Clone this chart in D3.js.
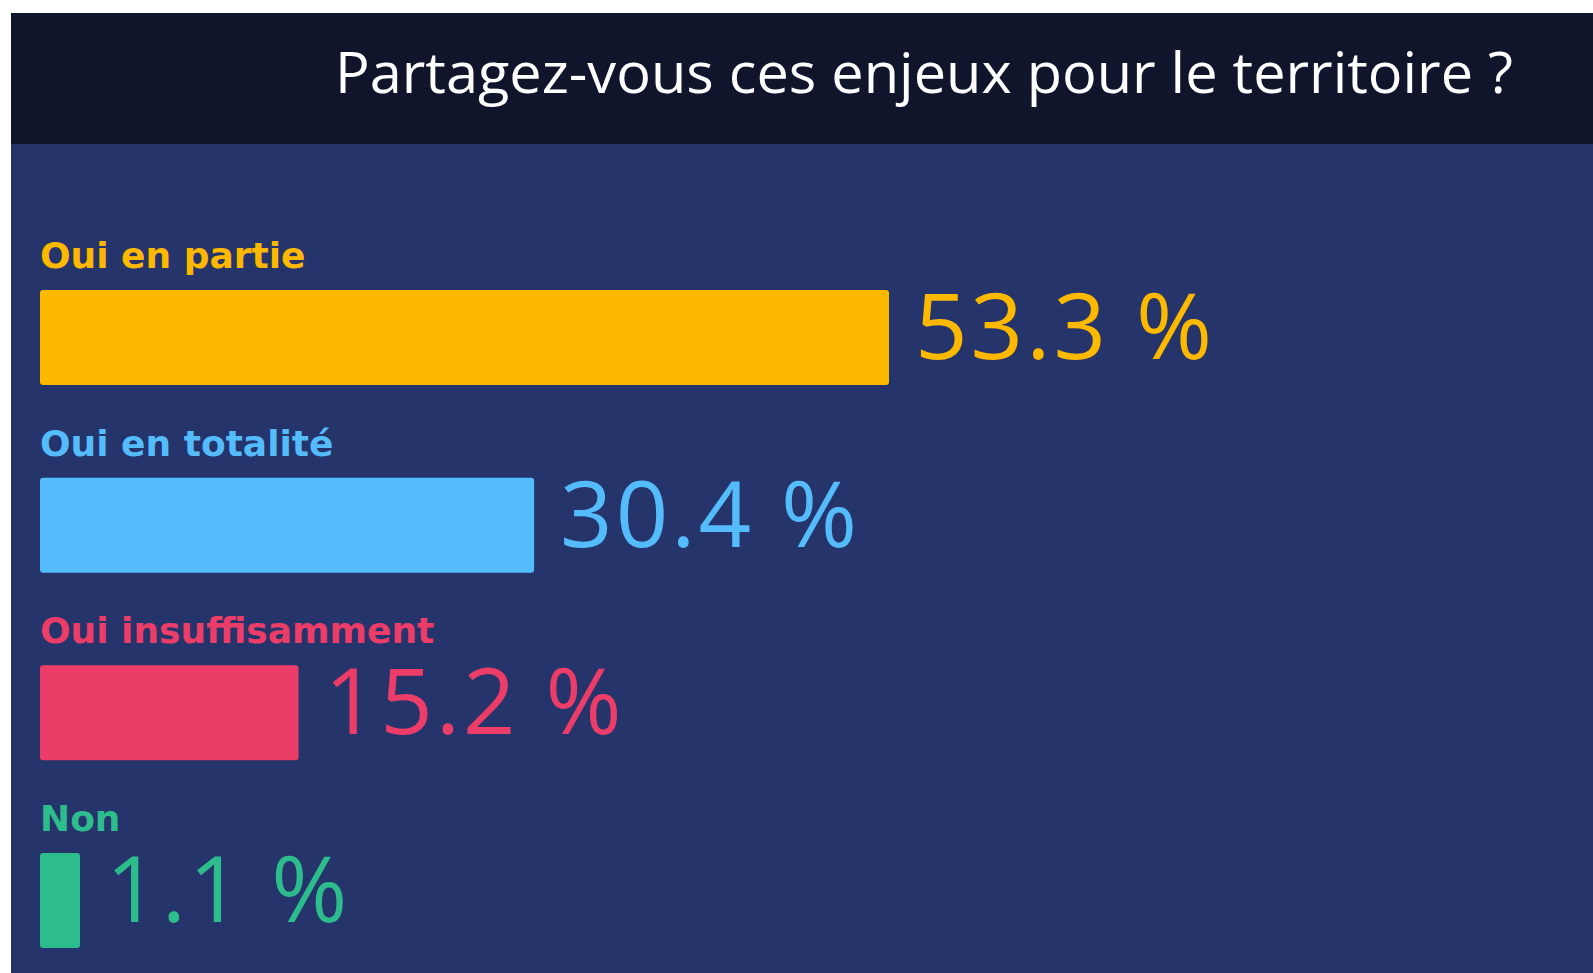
<!DOCTYPE html>
<html>
<head>
<meta charset="utf-8">
<script src="https://cdn.jsdelivr.net/npm/d3@7"></script>
<style>
  html, body { margin: 0; padding: 0; background: #ffffff; overflow: hidden; }
</style>
</head>
<body>
<div id="wrapper"></div>
<script>
// data
const categories = ["Oui en partie", "Oui en totalité", "Oui insuffisamment", "Non"];
const values = [53.3, 30.4, 15.2, 1.1];
const colors = ["#fdb800", "#55bcfb", "#ec3d69", "#2dbc8c"];
const title = "Partagez-vous ces enjeux pour le territoire ?";

function drawChart() {
  const width = 1593;
  const height = 973;

  const svg = d3.select("#wrapper")
    .append("svg")
    .attr("width", width)
    .attr("height", height);

  // header + body panels
  svg.append("rect")
    .attr("x", 11).attr("y", 13)
    .attr("width", width - 11).attr("height", 131)
    .attr("fill", "#11152b");
  svg.append("rect")
    .attr("x", 11).attr("y", 144)
    .attr("width", width - 11).attr("height", height - 144)
    .attr("fill", "#26346c");

  svg.append("text")
    .attr("x", 335).attr("y", 93)
    .attr("font-family", "'Open Sans', sans-serif")
    .attr("font-size", 56)
    .attr("fill", "#ffffff")
    .attr("textLength", 1178)
    .attr("lengthAdjust", "spacingAndGlyphs")
    .text(title);

  // scales
  const x = d3.scaleLinear()
    .domain([0, 53.3])
    .range([23, 849]);

  const y = d3.scalePoint()
    .domain(categories)
    .range([290, 853]);

  const barH = 95;
  const left = 40;

  const rows = svg.selectAll(".row")
    .data(categories)
    .enter()
    .append("g")
    .attr("class", "row")
    .attr("transform", function(d) {
      return "translate(" + left + "," + y(d) + ")";
    });

  rows.append("rect")
    .attr("x", 0)
    .attr("y", 0)
    .attr("width", function(d, i) { return x(values[i]); })
    .attr("height", barH)
    .attr("rx", 3)
    .attr("fill", function(d, i) { return colors[i]; });

  rows.append("text")
    .attr("x", 0)
    .attr("y", -22)
    .attr("font-family", "'DejaVu Sans', sans-serif")
    .attr("font-weight", "bold")
    .attr("font-size", 36)
    .attr("fill", function(d, i) { return colors[i]; })
    .text(function(d) { return d; });

  rows.append("text")
    .attr("x", function(d, i) { return x(values[i]) + 26; })
    .attr("y", 69)
    .attr("font-family", "'Open Sans', sans-serif")
    .attr("font-weight", 500)
    .attr("font-size", 92)
    .attr("letter-spacing", 3)
    .attr("fill", function(d, i) { return colors[i]; })
    .text(function(d, i) { return values[i].toFixed(1) + " %"; });
}
drawChart();
</script>
</body>
</html>
